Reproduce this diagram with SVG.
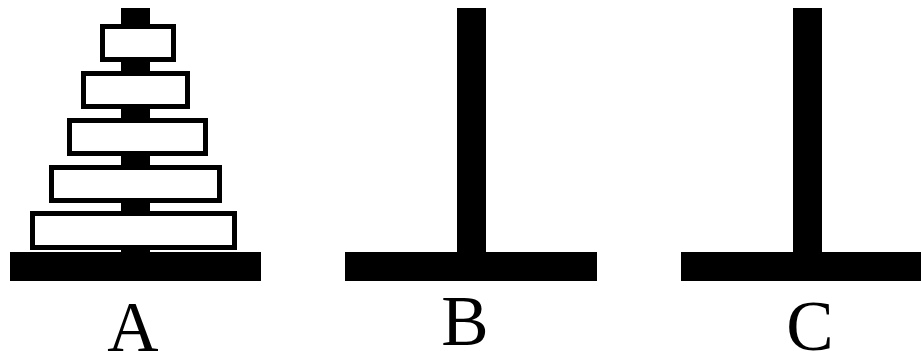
<svg xmlns="http://www.w3.org/2000/svg" width="921" height="351" viewBox="0 0 921 351">
<style>
.solid{fill:#000}
.disk{fill:#fff;stroke:#000;stroke-width:5}
.lbl{font-family:"Liberation Serif","Times New Roman",serif;font-size:71px;fill:#000;text-anchor:middle}
</style>
<rect width="921" height="351" fill="#fff"/>
<g id="pegA">
<rect class="solid" x="121" y="8" width="29" height="246"/>
<rect class="solid" x="10" y="252" width="251" height="29"/>
</g>
<g id="disks">
<rect class="disk" x="102.5" y="26.5" width="71" height="33"/>
<rect class="disk" x="83.5" y="73.5" width="104" height="33"/>
<rect class="disk" x="69.5" y="120.5" width="136" height="33"/>
<rect class="disk" x="51.5" y="167.5" width="168" height="33"/>
<rect class="disk" x="32.5" y="213.5" width="202" height="34"/>
</g>
<g id="pegB">
<rect class="solid" x="457" y="8" width="29" height="246"/>
<rect class="solid" x="345" y="252" width="252" height="29"/>
</g>
<g id="pegC">
<rect class="solid" x="793" y="8" width="29" height="246"/>
<rect class="solid" x="681" y="252" width="240" height="29"/>
</g>
<g id="labels">
<text class="lbl" x="133" y="351">A</text>
<text class="lbl" x="465" y="345">B</text>
<text class="lbl" x="810" y="350">C</text>
</g>
</svg>
